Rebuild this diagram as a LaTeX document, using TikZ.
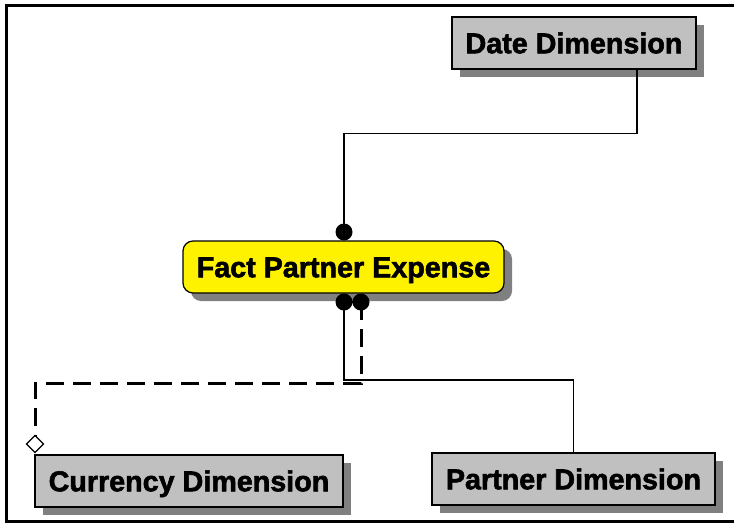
\documentclass[tikz,border=0pt]{standalone}
\usepackage{fontspec}
\setmainfont{Liberation Sans}
\newfontfamily\boxfont{Liberation Sans}[BoldFeatures={FakeBold=2}]
\definecolor{silver}{RGB}{192,192,192}

\begin{document}
\begin{tikzpicture}[x=1pt,y=-1pt,line width=1.2pt,
 shadowed/.style={preaction={fill=black!50,
   transform canvas={shift={(8pt,-8pt)}}}},
 dim node/.style={draw,fill=silver,shadowed,minimum height=52pt,
   inner sep=0pt,text height=20.5pt,text depth=0pt,
   font=\boxfont\bfseries\fontsize{28.7}{30}\selectfont},
 fact node/.style={dim node,fill=yellow,rounded corners=10pt},
 dashed line/.style={line width=3pt,dash pattern=on 18pt off 9pt}]

  \useasboundingbox (0,0) rectangle (734,523);
  \draw[line width=3pt] (740,5) -| (6,521.5) -- (740,521.5);

  \node[fact node,minimum width=321pt] (1) at (343.5,267) {Fact Partner Expense};
  \node[dim node,minimum width=244pt] (2) at (574,43) {Date Dimension};
  \node[dim node,minimum width=308pt] (3) at (189,481) {Currency Dimension};
  \node[dim node,minimum width=283pt] (4) at (573.5,479) {Partner Dimension};

  \coordinate (t1) at (344,232);
  \coordinate (b1) at (344,302);
  \coordinate (b2) at (361,302);
  \coordinate (c1) at (35,444);

  \draw ([xshift=63pt]2.south) -- ++(0,64) -| (t1);
  \draw (b1) -- ++(0,78) -| (4.north);
  \draw[dashed line] (b2) -- ++(0,81) -| (c1);

  % relationship ends
  \fill (t1) circle (8.5pt) (b1) circle (8.5pt) (b2) circle (8.5pt);
  \draw[fill=white] (c1) ++(0,-8.5) -- ++(8.5,8.5) -- ++(-8.5,8.5)
     -- ++(-8.5,-8.5) -- cycle;
\end{tikzpicture}
\end{document}
